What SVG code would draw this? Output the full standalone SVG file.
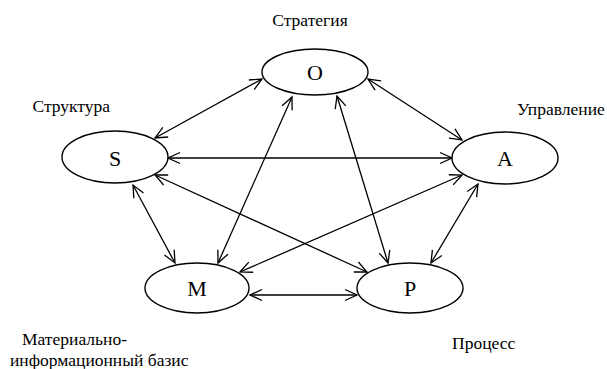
<svg xmlns="http://www.w3.org/2000/svg" width="607" height="369" viewBox="0 0 607 369">
  <style>
    .node ellipse { fill: #ffffff; stroke: #000000; stroke-width: 1.4; }
    .node text { font-size: 22px; fill: #000000; text-anchor: middle; }
    .caption { font-size: 17.5px; fill: #000000; }
    #connectors line { stroke: #000000; stroke-width: 1.3; fill: none; marker-start: url(#arrow); marker-end: url(#arrow); }
  </style>
  <defs>
    <marker id="arrow" markerUnits="userSpaceOnUse" viewBox="-14 -8 16 16" refX="0" refY="0" markerWidth="16" markerHeight="16" orient="auto-start-reverse">
      <path d="M-12,-5.5 L0,0 L-12,5.5" fill="none" stroke="#000000" stroke-width="1.3"/>
    </marker>
  </defs>
  <rect width="607" height="369" fill="#ffffff"/>

  <!-- links between the five elements -->
  <g id="connectors">
    <line x1="262" y1="79" x2="155" y2="138"/>
    <line x1="368" y1="79" x2="462" y2="140"/>
    <line x1="292" y1="97" x2="218" y2="263"/>
    <line x1="337" y1="96" x2="388" y2="263"/>
    <line x1="168" y1="158" x2="452" y2="158"/>
    <line x1="133" y1="185" x2="175" y2="263"/>
    <line x1="155" y1="175" x2="367" y2="272"/>
    <line x1="462" y1="175" x2="240" y2="272"/>
    <line x1="478" y1="184" x2="431" y2="263"/>
    <line x1="250" y1="295" x2="357" y2="295"/>
  </g>

  <g font-family="'Liberation Serif', 'DejaVu Serif', serif">
    <g id="node-O" class="node">
      <ellipse cx="315" cy="72" rx="53" ry="23"/>
      <text x="315" y="80">O</text>
    </g>
    <g id="node-S" class="node">
      <ellipse cx="115" cy="157" rx="53" ry="26"/>
      <text x="115" y="166">S</text>
    </g>
    <g id="node-A" class="node">
      <ellipse cx="505" cy="158" rx="53" ry="26"/>
      <text x="505" y="166">A</text>
    </g>
    <g id="node-M" class="node">
      <ellipse cx="197" cy="288" rx="52" ry="25"/>
      <text x="197" y="296">M</text>
    </g>
    <g id="node-P" class="node">
      <ellipse cx="410" cy="288" rx="53" ry="25"/>
      <text x="410" y="296">P</text>
    </g>

    <!-- element captions -->
    <text class="caption" x="310" y="26" text-anchor="middle">Стратегия</text>
    <text class="caption" x="110" y="112" text-anchor="end">Структура</text>
    <text class="caption" x="517" y="115">Управление</text>
    <text class="caption" x="22" y="345">Материально-</text>
    <text class="caption" x="10" y="366">информационный базис</text>
    <text class="caption" x="452" y="349">Процесс</text>
  </g>
</svg>
